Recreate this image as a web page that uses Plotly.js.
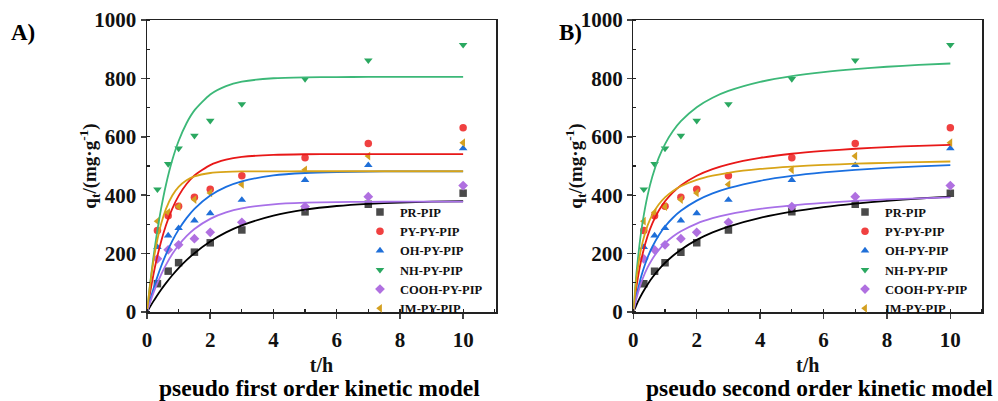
<!DOCTYPE html>
<html>
<head>
<meta charset="utf-8">
<script src="https://cdn.plot.ly/plotly-3.0.1.min.js"></script>
<style>
html,body{margin:0;padding:0;background:#fff;}
#chart{width:998px;height:401px;}
</style>
</head>
<body>
<div id="chart"></div>
<script>
// ---- data ----
const seriesNames = ["PR-PIP", "PY-PY-PIP", "OH-PY-PIP", "NH-PY-PIP", "COOH-PY-PIP", "IM-PY-PIP"];
const tData = [0.33, 0.67, 1, 1.5, 2, 3, 5, 7, 10];
const qPR   = [97, 140, 169, 205, 237, 281, 343, 369, 407];
const qPY   = [279, 330, 362, 393, 420, 467, 528, 577, 631];
const qOH   = [222, 262, 287, 313, 338, 384, 452, 503, 560];
const qNH   = [420, 507, 560, 604, 655, 712, 798, 862, 915];
const qCOOH = [182, 213, 230, 251, 273, 307, 361, 395, 433];
const qIM   = [311, 341, 361, 385, 408, 437, 487, 534, 580];

// fitted curves
const tFit = [0, 0.1, 0.2, 0.3, 0.45, 0.6, 0.8, 1, 1.25, 1.5, 2, 2.5, 3, 4, 5, 6, 7, 8, 9, 10];
// pseudo first order
const pfoPR   = [0, 18.6, 36.4, 53.2, 77.0, 99.0, 125.9, 150.3, 177.5, 201.5, 241.5, 272.6, 296.8, 330.3, 350.6, 363.0, 370.5, 375.0, 377.8, 379.4];
const pfoPY   = [0, 67.4, 126.4, 178.0, 243.6, 297.4, 354.3, 397.9, 438.4, 467.4, 503.2, 521.5, 531.0, 538.3, 540.3, 540.8, 541, 541, 541, 541];
const pfoOH   = [0, 40.6, 77.8, 111.8, 157.6, 197.7, 243.6, 282.1, 321.5, 353.3, 399.1, 428.6, 447.6, 467.7, 476.1, 479.5, 481.0, 481.6, 481.8, 481.9];
const pfoNH   = [0, 98.1, 184.3, 259.9, 356.5, 436.0, 520.4, 585.6, 646.5, 690.4, 745.2, 773.8, 788.7, 800.6, 803.8, 804.7, 805, 805, 805, 805];
const pfoCOOH = [0, 33.6, 64.1, 92.0, 129.3, 161.6, 198.4, 228.8, 259.8, 284.3, 319.1, 341.0, 354.8, 368.9, 374.4, 376.6, 377.4, 377.8, 377.9, 378];
const pfoIM   = [0, 95.2, 171.6, 232.9, 302.9, 353.3, 399.1, 428.6, 451.2, 464.2, 476.1, 480.0, 481.3, 481.9, 482, 482, 482, 482, 482, 482];
// pseudo second order
const psoPR   = [0, 24.9, 47.3, 67.6, 94.5, 118.0, 145.0, 168.2, 192.8, 213.6, 247.0, 272.6, 292.8, 322.6, 343.7, 359.3, 371.4, 380.9, 388.8, 395.2];
const psoPY   = [0, 86.7, 151.8, 202.3, 260.1, 303.5, 346.9, 379.4, 410.1, 433.6, 466.9, 489.5, 505.8, 527.8, 542.0, 551.8, 559.1, 564.7, 569.1, 572.6];
const psoOH   = [0, 56.5, 102.4, 140.5, 186.8, 223.6, 262.4, 292.8, 322.8, 346.5, 381.4, 406.0, 424.2, 449.5, 466.1, 477.9, 486.7, 493.5, 498.9, 503.3];
const psoNH   = [0, 135.6, 235.6, 312.5, 399.4, 463.8, 527.7, 575.2, 619.8, 653.7, 701.5, 733.8, 757.0, 788.1, 808.0, 821.9, 832.1, 839.9, 846.1, 851.1];
const psoCOOH = [0, 47.1, 84.8, 115.6, 152.6, 181.7, 212.0, 235.6, 258.5, 276.5, 302.9, 321.2, 334.7, 353.3, 365.5, 374.1, 380.5, 385.5, 389.4, 392.6];
const psoIM   = [0, 116.1, 190.7, 242.7, 296.7, 333.8, 368.3, 392.6, 414.6, 430.6, 452.5, 466.8, 476.8, 489.9, 498.1, 503.8, 507.9, 511.0, 513.5, 515.4];

const xTickVals = [0, 2, 4, 6, 8, 10];
const yTickVals = [0, 200, 400, 600, 800, 1000];

// ---- styles ----
const markerColors = ["#4a4a4a", "#f04040", "#1f6fd8", "#2aa860", "#b070e0", "#d4a020"];
const lineColors   = ["#000000", "#e81818", "#1a6fe0", "#3cb878", "#a870e8", "#d8a418"];
const symbols = ["square", "circle", "triangle-up", "triangle-down", "diamond", "triangle-left"];

const dataSets = [qPR, qPY, qOH, qNH, qCOOH, qIM];
const pfoSets = [pfoPR, pfoPY, pfoOH, pfoNH, pfoCOOH, pfoIM];
const psoSets = [psoPR, psoPY, psoOH, psoNH, psoCOOH, psoIM];

const serif = "Liberation Serif, Times New Roman, serif";

const traces = [];
[["x", "y", pfoSets, "legend"], ["x2", "y2", psoSets, "legend2"]].forEach(([xa, ya, fits, lg]) => {
  for (let i = 0; i < 6; i++) {
    traces.push({
      x: tData, y: dataSets[i], xaxis: xa, yaxis: ya, type: "scatter", mode: "markers",
      name: seriesNames[i], legend: lg, showlegend: true,
      marker: {symbol: symbols[i], color: markerColors[i], size: 7.5}
    });
  }
  for (let i = 0; i < 6; i++) {
    traces.push({
      x: tFit, y: fits[i], xaxis: xa, yaxis: ya, type: "scatter", mode: "lines",
      showlegend: false, hoverinfo: "skip",
      line: {color: lineColors[i], width: 1.8, shape: "spline", smoothing: 0.6}
    });
  }
});

const tickFont = {family: serif, size: 21, color: "#111", weight: "bold"};
function xAxis(domain, range, anchor) {
  return {
    domain: domain, range: range, tickvals: xTickVals, ticks: "outside", ticklen: 5, tickwidth: 1.5,
    anchor: anchor, ticklabelstandoff: 3,
    showline: true, linecolor: "#222", linewidth: 1.5, mirror: true, zeroline: false, showgrid: false,
    tickfont: tickFont, automargin: false,
    minor: {dtick: 1, ticks: "inside", ticklen: 3, tickwidth: 1.2, tickcolor: "#222", showgrid: false},
    title: {text: "t/h", font: {family: serif, size: 20, color: "#111", weight: "bold"}, standoff: 7}
  };
}
function yAxis(domain, anchor) {
  return {
    domain: domain, range: [0, 1000], tickvals: yTickVals,
    ticks: "outside", ticklen: 5, tickwidth: 1.5, anchor: anchor,
    showline: true, linecolor: "#222", linewidth: 1.5, mirror: true, zeroline: false, showgrid: false,
    tickfont: tickFont, automargin: false,
    minor: {dtick: 100, ticks: "inside", ticklen: 3, tickwidth: 1.2, tickcolor: "#222", showgrid: false},
    title: {text: "q<sub>t</sub>/(mg·g<sup>-1</sup>)", font: {family: serif, size: 19, color: "#111", weight: "bold"}}
  };
}

const legendStyle = (x) => ({
  x: x, y: 0.5075, xanchor: "left", yanchor: "top", bgcolor: "rgba(0,0,0,0)",
  font: {family: serif, size: 12.5, color: "#111", weight: "bold"},
  itemwidth: 30, tracegroupgap: 0
});

const annFont = (s) => ({family: serif, size: s, color: "#000", weight: "bold"});
const layout = {
  width: 998, height: 401, margin: {l: 0, r: 0, t: 0, b: 0},
  paper_bgcolor: "#fff", plot_bgcolor: "#fff", showlegend: true,
  xaxis: xAxis([0.1473, 0.497], [0, 11.04], "y"), yaxis: yAxis([0.2219, 0.9501], "x"),
  xaxis2: xAxis([0.6346, 0.984], [0, 11], "y2"), yaxis2: yAxis([0.2219, 0.9501], "x2"),
  legend: legendStyle(0.3607),
  legend2: legendStyle(0.8467),
  annotations: [
    {text: "A)", xref: "paper", yref: "paper", x: 0.009, y: 1 - 32/401, xanchor: "left", yanchor: "middle", showarrow: false, font: annFont(23)},
    {text: "B)", xref: "paper", yref: "paper", x: 0.558, y: 1 - 32/401, xanchor: "left", yanchor: "middle", showarrow: false, font: annFont(23)},
    {text: "pseudo first order kinetic model", xref: "paper", yref: "paper", x: 319/998, y: 1 - 388/401, xanchor: "center", yanchor: "middle", showarrow: false, font: annFont(23.5)},
    {text: "pseudo second order kinetic model", xref: "paper", yref: "paper", x: 819/998, y: 1 - 388/401, xanchor: "center", yanchor: "middle", showarrow: false, font: annFont(23.5)}
  ]
};

Plotly.newPlot("chart", traces, layout, {displayModeBar: false, staticPlot: true});
</script>
</body>
</html>
